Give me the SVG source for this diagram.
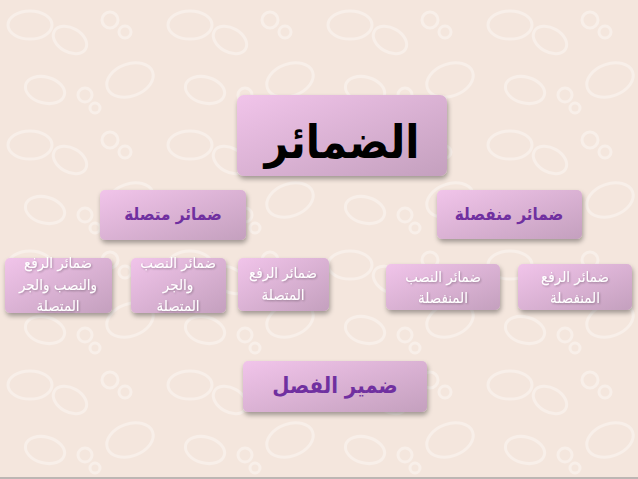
<svg xmlns="http://www.w3.org/2000/svg" width="638" height="479" viewBox="0 0 638 479">
<style>
  .box { fill: url(#boxGrad); filter: url(#shadow); }
  .t { font-family: "DejaVu Sans Condensed", "DejaVu Sans", sans-serif; text-anchor: middle; direction: rtl; }
  .title { font-size: 46px; font-weight: bold; fill: #000; }
  .mid { font-size: 17px; font-weight: bold; fill: #7030a0; }
  .big { font-size: 22px; font-weight: bold; fill: #7030a0; }
  .small { font-size: 15px; fill: #ffffff; filter: url(#tshadow); }
  .lace { fill: none; stroke: #ffffff; stroke-opacity: 0.35; stroke-width: 3; }
</style>
<defs>
  <linearGradient id="boxGrad" x1="0" y1="0" x2="1" y2="1">
    <stop offset="0" stop-color="#f1c4ea"/>
    <stop offset="1" stop-color="#c4a0be"/>
  </linearGradient>
  <filter id="shadow" x="-10%" y="-20%" width="120%" height="150%">
    <feGaussianBlur in="SourceAlpha" stdDeviation="2.5"/>
    <feOffset dx="1" dy="3" result="b"/>
    <feComponentTransfer><feFuncA type="linear" slope="0.35"/></feComponentTransfer>
    <feMerge><feMergeNode/><feMergeNode in="SourceGraphic"/></feMerge>
  </filter>
  <filter id="tshadow" x="-10%" y="-20%" width="120%" height="150%">
    <feGaussianBlur in="SourceAlpha" stdDeviation="0.8"/>
    <feOffset dx="0.5" dy="1"/>
    <feComponentTransfer><feFuncA type="linear" slope="0.3"/></feComponentTransfer>
    <feMerge><feMergeNode/><feMergeNode in="SourceGraphic"/></feMerge>
  </filter>
  <pattern id="lacePat" width="160" height="120" patternUnits="userSpaceOnUse">
    <ellipse class="lace" cx="30" cy="25" rx="22" ry="14"/>
    <ellipse class="lace" cx="70" cy="40" rx="18" ry="12" transform="rotate(30 70 40)"/>
    <circle class="lace" cx="110" cy="20" r="8"/>
    <circle class="lace" cx="125" cy="32" r="6"/>
    <ellipse class="lace" cx="130" cy="80" rx="24" ry="16" transform="rotate(-20 130 80)"/>
    <ellipse class="lace" cx="45" cy="90" rx="20" ry="13" transform="rotate(15 45 90)"/>
    <circle class="lace" cx="85" cy="95" r="7"/>
    <circle class="lace" cx="95" cy="108" r="5"/>
  </pattern>
</defs>
<rect x="0" y="0" width="638" height="479" fill="#f4e6dd"/>
<rect x="0" y="0" width="638" height="479" fill="url(#lacePat)"/>
<rect x="0" y="477" width="638" height="2" fill="#bdb6b3"/>

<g id="connectors"></g>

<g id="n-root">
  <rect class="box" x="237" y="95" width="210" height="81" rx="7"/>
  <text class="t title" x="342" y="158">الضمائر</text>
</g>
<g id="n-attached">
  <rect class="box" x="100" y="190" width="146" height="50" rx="5"/>
  <text class="t mid" x="173" y="220">ضمائر متصلة</text>
</g>
<g id="n-detached">
  <rect class="box" x="437" y="190" width="145" height="49" rx="5"/>
  <text class="t mid" x="509" y="220">ضمائر منفصلة</text>
</g>
<g id="n-a1">
  <rect class="box" x="5" y="258" width="107" height="55" rx="5"/>
  <text class="t small" x="58" y="268">ضمائر الرفع</text>
  <text class="t small" x="58" y="290">والنصب والجر</text>
  <text class="t small" x="58" y="311">المتصلة</text>
</g>
<g id="n-a2">
  <rect class="box" x="131" y="258" width="95" height="55" rx="5"/>
  <text class="t small" x="178" y="268">ضمائر النصب</text>
  <text class="t small" x="178" y="290">والجر</text>
  <text class="t small" x="178" y="311">المتصلة</text>
</g>
<g id="n-a3">
  <rect class="box" x="238" y="258" width="91" height="53" rx="5"/>
  <text class="t small" x="283" y="278">ضمائر الرفع</text>
  <text class="t small" x="283" y="300">المتصلة</text>
</g>
<g id="n-d1">
  <rect class="box" x="386" y="264" width="114" height="46" rx="5"/>
  <text class="t small" x="443" y="282">ضمائر النصب</text>
  <text class="t small" x="443" y="303">المنفصلة</text>
</g>
<g id="n-d2">
  <rect class="box" x="518" y="264" width="114" height="46" rx="5"/>
  <text class="t small" x="575" y="282">ضمائر الرفع</text>
  <text class="t small" x="575" y="303">المنفصلة</text>
</g>
<g id="n-fasl">
  <rect class="box" x="243" y="361" width="184" height="51" rx="5"/>
  <text class="t big" x="335" y="393">ضمير الفصل</text>
</g>
</svg>
